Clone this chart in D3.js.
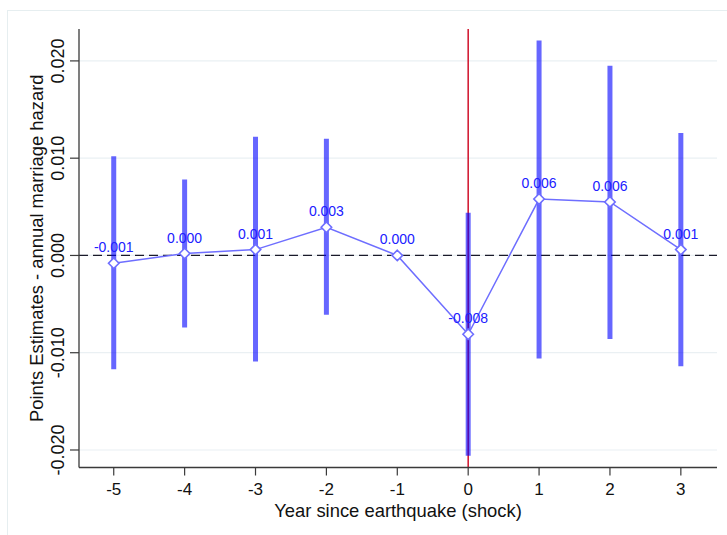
<!DOCTYPE html>
<html>
<head>
<meta charset="utf-8">
<script src="https://cdn.jsdelivr.net/npm/d3@7"></script>
<style>
  html, body { margin: 0; padding: 0; background: #fff; }
  svg { display: block; font-family: "Liberation Sans", Arial, sans-serif; }
</style>
</head>
<body>
<svg id="chart" width="727" height="535"></svg>
<script>
const years = [-5, -4, -3, -2, -1, 0, 1, 2, 3];
const estimates = [-0.0008, 0.0002, 0.0006, 0.0029, 0.0000, -0.0081, 0.0058, 0.0055, 0.0006];
const pointLabels = ["-0.001", "0.000", "0.001", "0.003", "0.000", "-0.008", "0.006", "0.006", "0.001"];
const ciLow = [-0.0117, -0.0074, -0.0109, -0.0061, null, -0.0206, -0.0106, -0.0086, -0.0114];
const ciHigh = [0.0102, 0.0078, 0.0122, 0.0120, null, 0.0044, 0.0221, 0.0195, 0.0126];
const yTicks = [-0.02, -0.01, 0, 0.01, 0.02];
const yTickLabels = ["-0.020", "-0.010", "0.000", "0.010", "0.020"];
const xTickLabels = ["-5", "-4", "-3", "-2", "-1", "0", "1", "2", "3"];
const shockYear = 0;
const xTitle = "Year since earthquake (shock)";
const yTitle = "Points Estimates - annual marriage hazard";

const svg = d3.select("#chart");
const L = 79, R = 717, T = 29, B = 467.5;

const x = d3.scaleLinear().domain([-5.49, 3.51]).range([L, R]);
const y = d3.scaleLinear().domain([-0.0218, 0.02328]).range([B, T]);

// outer frame
svg.append("rect").attr("x", 7.5).attr("y", 10.5).attr("width", 740).attr("height", 540)
  .attr("fill", "#fff").attr("stroke", "#e6eef0").attr("stroke-width", 1);

// gridlines
svg.append("g").selectAll("line").data(yTicks).join("line")
  .attr("x1", L).attr("x2", R)
  .attr("y1", d => y(d)).attr("y2", d => y(d))
  .attr("stroke", "#eaf0f3").attr("stroke-width", 1.2);

// zero dashed line
svg.append("line").attr("x1", L).attr("x2", R).attr("y1", y(0)).attr("y2", y(0))
  .attr("stroke", "#1a1a2a").attr("stroke-width", 1.3).attr("stroke-dasharray", "9,5");

// shock line
svg.append("line").attr("x1", x(shockYear)).attr("x2", x(shockYear)).attr("y1", T).attr("y2", B)
  .attr("stroke", "#d0102a").attr("stroke-width", 1.5);

const data = years.map((yr, i) => ({yr, est: estimates[i], lab: pointLabels[i], lo: ciLow[i], hi: ciHigh[i]}));

// CI bars
svg.append("g").selectAll("line").data(data.filter(d => d.lo !== null)).join("line")
  .attr("x1", d => x(d.yr)).attr("x2", d => x(d.yr))
  .attr("y1", d => y(d.lo)).attr("y2", d => y(d.hi))
  .attr("stroke", "#0000ff").attr("stroke-opacity", 0.6).attr("stroke-width", 5);

// connecting line
svg.append("path").datum(data)
  .attr("d", d3.line().x(d => x(d.yr)).y(d => y(d.est)))
  .attr("fill", "none").attr("stroke", "#6e6eff").attr("stroke-width", 1.5);

// diamonds
svg.append("g").selectAll("path").data(data).join("path")
  .attr("d", d3.symbol().type(d3.symbolDiamond2).size(70))
  .attr("transform", d => `translate(${x(d.yr)},${y(d.est)})`)
  .attr("fill", "#fff").attr("stroke", "#6e6eff").attr("stroke-width", 1.6);

// point labels
svg.append("g").selectAll("text").data(data).join("text")
  .attr("x", d => x(d.yr)).attr("y", d => y(d.est) - 11)
  .attr("text-anchor", "middle").attr("font-size", 14).attr("fill", "#2020ff")
  .text(d => d.lab);

// axes
const axisColor = "#3a3a3a";
svg.append("line").attr("x1", L).attr("x2", L).attr("y1", T).attr("y2", B)
  .attr("stroke", axisColor).attr("stroke-width", 1.3);
svg.append("line").attr("x1", L).attr("x2", R).attr("y1", B).attr("y2", B)
  .attr("stroke", axisColor).attr("stroke-width", 1.3);

// y ticks
const yt = svg.append("g");
yt.selectAll("line").data(yTicks).join("line")
  .attr("x1", L - 9).attr("x2", L).attr("y1", d => y(d)).attr("y2", d => y(d))
  .attr("stroke", axisColor).attr("stroke-width", 1.2);
yt.selectAll("text").data(yTicks).join("text")
  .attr("transform", (d) => `translate(64,${y(d)}) rotate(-90)`)
  .attr("text-anchor", "middle").attr("font-size", 18).attr("fill", "#111")
  .text((d, i) => yTickLabels[i]);

// x ticks
const xt = svg.append("g");
xt.selectAll("line").data(years).join("line")
  .attr("x1", d => x(d)).attr("x2", d => x(d)).attr("y1", B).attr("y2", B + 8)
  .attr("stroke", axisColor).attr("stroke-width", 1.2);
xt.selectAll("text").data(years).join("text")
  .attr("x", d => x(d)).attr("y", 494.5)
  .attr("text-anchor", "middle").attr("font-size", 17).attr("fill", "#111")
  .text((d, i) => xTickLabels[i]);

// titles
svg.append("text").attr("x", (L + R) / 2).attr("y", 517)
  .attr("text-anchor", "middle").attr("font-size", 18.4).attr("fill", "#111").text(xTitle);
svg.append("text").attr("transform", `translate(43,${(T + B) / 2}) rotate(-90)`)
  .attr("text-anchor", "middle").attr("font-size", 18.4).attr("fill", "#111").text(yTitle);
</script>
</body>
</html>
